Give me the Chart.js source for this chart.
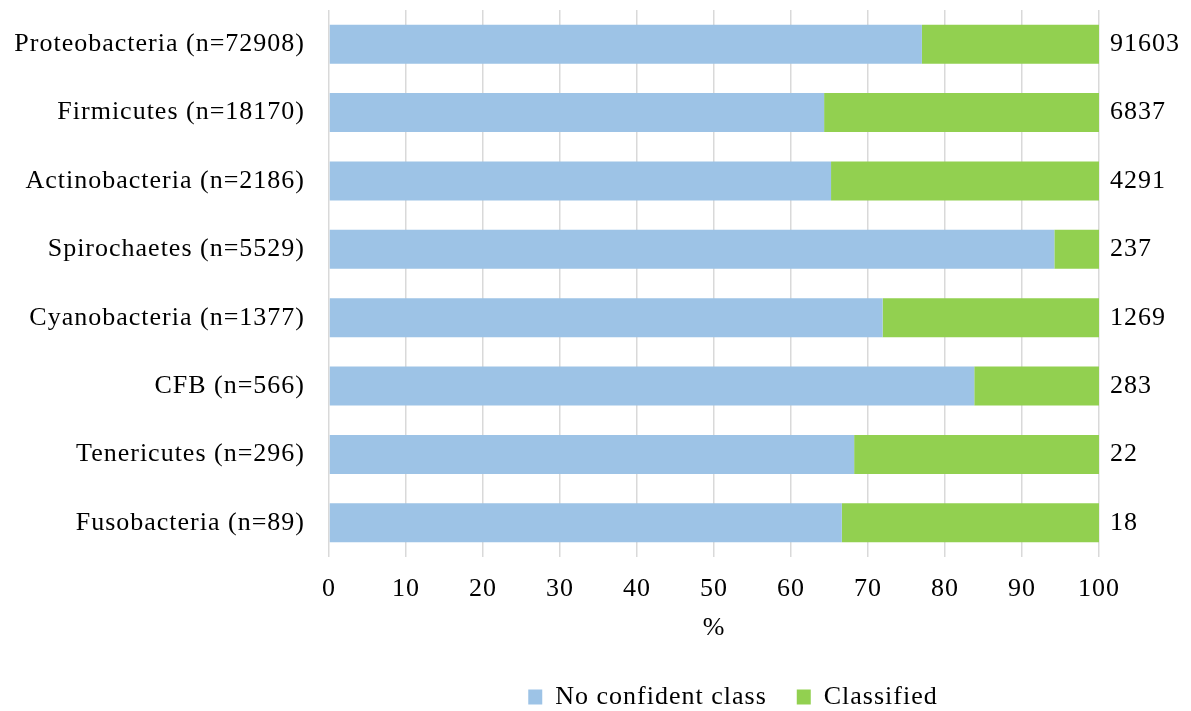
<!DOCTYPE html>
<html>
<head>
<meta charset="utf-8">
<script src="https://cdn.jsdelivr.net/npm/chart.js@4/dist/chart.umd.min.js"></script>
<style>
  html, body { margin: 0; padding: 0; background: #fff; }
  #wrap { width: 1191px; height: 711px; }
</style>
</head>
<body>
<div id="wrap"><canvas id="c" width="1191" height="711"></canvas></div>
<script>
// Phylum labels (left axis)
const categories = [
  'Proteobacteria (n=72908)',
  'Firmicutes (n=18170)',
  'Actinobacteria (n=2186)',
  'Spirochaetes (n=5529)',
  'Cyanobacteria (n=1377)',
  'CFB (n=566)',
  'Tenericutes (n=296)',
  'Fusobacteria (n=89)'
];
// Share of sequences (%) per phylum
const noConfidentClass = [77.0, 64.3, 65.2, 94.2, 71.9, 83.8, 68.2, 66.6];
const classified       = [23.0, 35.7, 34.8, 5.8, 28.1, 16.2, 31.8, 33.4];
// Counts shown at the right end of each bar
const rightLabels = ['91603', '6837', '4291', '237', '1269', '283', '22', '18'];
// Percentage axis ticks
const xMin = 0, xMax = 100, xStep = 10;

const serif = '"Liberation Serif", "Times New Roman", serif';
const textSize = 26;

// Slightly spaced-out lettering for all chart text, and a small nudge
// of the legend block.
const textTweaks = {
  id: 'textTweaks',
  beforeLayout(chart) { chart.ctx.letterSpacing = '1px'; },
  afterLayout(chart) {
    const lg = chart.legend;
    if (lg) { lg.left += 19; lg.right += 19; lg.top += 9; lg.bottom += 9; }
  },
  beforeDraw(chart) { chart.ctx.letterSpacing = '1px'; }
};

// Vertical category axes: no extra top/bottom space around the plot
function trimPadding(scale) {
  scale.paddingTop = 0;
  scale.paddingBottom = 0;
}

Chart.defaults.color = '#000';

new Chart(document.getElementById('c'), {
  type: 'bar',
  data: {
    labels: categories,
    datasets: [
      {
        label: 'No confident class',
        data: noConfidentClass,
        backgroundColor: '#9DC3E6',
        barPercentage: 0.57,
        categoryPercentage: 1.0
      },
      {
        label: 'Classified',
        data: classified,
        backgroundColor: '#92D050',
        barPercentage: 0.57,
        categoryPercentage: 1.0
      }
    ]
  },
  options: {
    indexAxis: 'y',
    responsive: false,
    animation: false,
    layout: { padding: { top: 10, left: 10, right: 0, bottom: 0 } },
    scales: {
      x: {
        stacked: true,
        min: xMin,
        max: xMax,
        ticks: {
          stepSize: xStep,
          padding: 17,
          font: { family: serif, size: textSize },
          color: '#000'
        },
        grid: { color: '#d9d9d9', lineWidth: 1.5, drawTicks: false },
        border: { display: false },
        title: {
          display: true,
          text: '%',
          font: { family: serif, size: textSize },
          color: '#000',
          padding: { top: 7, bottom: 1 }
        },
        afterFit(scale) { scale.height = 88; }
      },
      y: {
        stacked: true,
        position: 'left',
        grid: { display: false, drawTicks: false },
        border: { display: false },
        ticks: {
          padding: 24,
          font: { family: serif, size: textSize },
          color: '#000'
        },
        afterFit(scale) { scale.width = 319; trimPadding(scale); }
      },
      yCounts: {
        type: 'category',
        labels: rightLabels,
        position: 'right',
        offset: true,
        grid: { display: false, drawTicks: false },
        border: { display: false },
        ticks: {
          padding: 11,
          font: { family: serif, size: textSize },
          color: '#000'
        },
        afterFit(scale) { scale.width = 92; trimPadding(scale); }
      }
    },
    plugins: {
      legend: {
        position: 'bottom',
        fullSize: false,
        labels: {
          boxWidth: 14,
          boxHeight: 15,
          padding: 30,
          color: '#000',
          font: { family: serif, size: textSize }
        }
      },
      tooltip: { enabled: false }
    }
  },
  plugins: [textTweaks]
});
</script>
</body>
</html>
